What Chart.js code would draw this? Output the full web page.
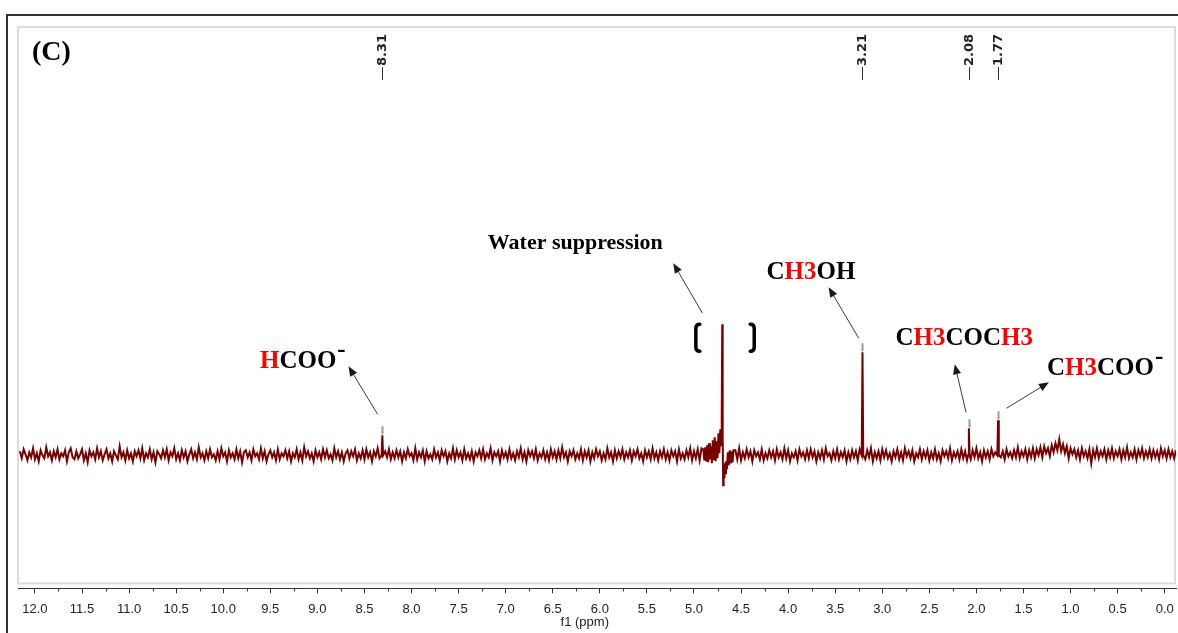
<!DOCTYPE html>
<html>
<head>
<meta charset="utf-8">
<script src="https://cdn.jsdelivr.net/npm/chart.js@4.4.0/dist/chart.umd.min.js"></script>
<style>
html,body{margin:0;padding:0;background:#fff}
canvas{display:block}
</style>
</head>
<body>
<canvas id="nmr" width="1178" height="633"></canvas>
<script>
// 1H NMR spectrum (C), intensity in arbitrary units (baseline = 0)

// baseline noise, one value every 0.02 ppm from 12.16 down to -0.12 (20 values = 0.4 ppm per row)
const baseStart = 12.16;
const baseStep = 0.02;
const baseNoise = [
  4,-3,6,1,-5,3,-2,7,-4,2,-6,5,0,-3,8,-1,3,-5,4,-2,      // 12.16
  6,-4,2,-1,5,-6,3,7,-2,-4,4,-3,1,6,-5,2,-7,5,-1,3,      // 11.76
  -4,7,-2,4,-5,1,6,-3,2,-6,4,0,-4,9,-2,3,-5,5,-3,2,      // 11.36
  -6,4,-1,5,-3,7,-5,2,-2,6,-4,3,-7,4,1,-3,5,-2,6,-5,     // 10.96
  3,-1,7,-4,2,-5,5,-2,4,-6,1,6,-3,3,-4,8,-2,2,-5,4,      // 10.56
  -3,6,-2,1,-5,4,-4,7,-1,3,-6,5,-2,2,-4,6,-3,4,-7,3,     // 10.16
  5,-2,3,-5,6,-1,2,-4,7,-3,4,-6,1,5,-2,3,-5,6,-4,2,      // 9.76
  -1,5,-3,4,-6,2,-2,6,-4,3,-5,8,-1,4,-3,2,-6,5,-2,3,     // 9.36
  -4,6,-2,5,-3,1,-5,7,-2,4,-4,3,-6,2,5,-3,4,-1,6,-5,     // 8.96
  2,-3,5,-4,6,-2,3,-6,4,-1,7,-3,2,-5,4,-2,6,-4,3,-3,     // 8.56
  5,-2,4,-6,3,-3,6,-1,2,-5,7,-4,3,-2,5,-6,4,-3,1,-4,     // 8.16
  6,-2,3,-5,5,-1,4,-6,2,-3,7,-4,5,-2,3,-5,6,-3,2,-4,     // 7.76
  4,-6,3,-1,5,-3,6,-4,2,-2,7,-5,3,-1,4,-6,5,-2,3,-4,     // 7.36
  6,-3,2,-5,4,-2,7,-4,3,-6,5,-1,4,-3,6,-5,2,-2,5,-4,     // 6.96
  3,-5,6,-2,4,-4,5,-3,8,-2,3,-6,4,-1,5,-4,2,-3,6,-5,     // 6.56
  4,-2,5,-6,3,-3,6,-1,4,-5,2,-4,7,-2,3,-6,5,-3,4,-2,     // 6.16
  6,-4,3,-2,5,-5,4,-1,6,-3,2,-6,5,-2,4,-4,7,-3,3,-5,     // 5.76
  4,-2,6,-4,3,-5,5,-1,4,-6,6,-3,2,-4,5,-2,7,-5,4,-3,     // 5.36
  6,-5,7,-4,8,-6,9,-7,10,-6,8,-5,6,-4,5,-3,7,-4,5,-6,    // 4.96
  5,-4,7,-5,3,-3,6,-2,4,-6,5,-1,3,-4,6,-5,2,-3,5,-2,     // 4.56
  4,-5,6,-2,3,-4,7,-3,5,-6,2,-2,4,-5,6,-1,3,-4,5,-3,     // 4.16
  6,-2,4,-6,3,-3,5,-4,7,-1,2,-5,4,-3,6,-4,3,-2,5,-6,     // 3.76
  3,-4,5,-2,4,-5,6,-3,2,-4,5,-2,7,-6,3,-3,4,-5,6,-2,     // 3.36
  5,-3,2,-6,4,-2,6,-4,3,-5,7,-1,4,-3,5,-6,2,-2,6,-4,     // 2.96
  4,-2,5,-5,3,-3,6,-4,2,-6,5,-1,4,-3,7,-5,3,-2,4,-4,     // 2.56
  6,-3,4,-5,2,-4,5,-2,7,-3,3,-6,5,-2,4,-4,6,-1,3,-5,     // 2.16
  7,-2,4,-4,6,-1,3,-3,5,-2,8,-3,4,-1,6,-4,5,-2,7,-3,     // 1.76
  6,0,8,-2,9,2,7,-1,10,3,12,5,16,4,11,2,9,-3,7,1,        // 1.36
  6,-2,5,-4,7,-1,4,-3,6,-8,5,-2,7,-3,4,-1,6,-4,5,-2,     // 0.96
  7,-3,4,-1,6,-4,5,-2,8,-3,3,-2,6,-4,5,-1,7,-3,4,-2,     // 0.56
  6,-3,5,-2,4,-4,7,-1,5,-3,6,-2,4,-3,5                   // 0.16
];

// suppressed water signal around 4.70 ppm
const waterPpm = [4.90,4.89,4.88,4.87,4.86,4.85,4.84,4.83,4.82,4.81,
  4.80,4.79,4.78,4.77,4.76,4.75,4.74,4.73,4.72,4.71,
  4.705,4.70,4.695,4.69,4.685,4.68,4.675,4.67,
  4.66,4.65,4.64,4.63,4.62,4.61,4.60,4.59,4.58];
const waterVal = [6,-5,8,-6,10,-7,12,-4,9,-8,
  15,-5,18,-6,14,-3,22,2,26,10,
  40,131,20,-30,-12,-22,-8,-18,
  -6,-14,3,-10,5,-8,4,-7,5];

// product peaks
const peakPpm = [8.31, 3.21, 2.08, 1.77];
const peakHeight = [20, 103, 27, 35];
const peakLabels = ['8.31', '3.21', '2.08', '1.77'];

// x axis
const ppmMin = -0.12;
const ppmMax = 12.18;
const axisTitle = 'f1 (ppm)';

const RED = '#ff0000';
const BLK = '#000000';

// annotations (anchored in ppm / intensity)
const notes = [
  {parts: [['Water suppression', BLK]], ppm: 7.19, val: 212, size: 22},
  {parts: [['C', BLK], ['H3', RED], ['OH', BLK]], ppm: 4.23, val: 183, size: 25},
  {parts: [['H', RED], ['COO', BLK]], ppm: 9.61, val: 94, size: 25, minus: true},
  {parts: [['C', BLK], ['H3', RED], ['COC', BLK], ['H3', RED]], ppm: 2.86, val: 117, size: 25},
  {parts: [['C', BLK], ['H3', RED], ['COO', BLK]], ppm: 1.25, val: 87, size: 25, minus: true}
];
const arrows = [
  [4.91, 142, 5.22, 192],
  [3.25, 117, 3.57, 168],
  [8.36, 41, 8.67, 89],
  [2.11, 43, 2.23, 91],
  [1.68, 47, 1.23, 73]
];

// build the spectrum line
let pts = [];
baseNoise.forEach(function(v, i) {
  let x = +(baseStart - i * baseStep).toFixed(3);
  if (x <= waterPpm[0] + 0.001 && x >= waterPpm[waterPpm.length - 1] - 0.001) return;
  if (peakPpm.some(function(p) { return Math.abs(p - x) < 0.015; })) return;
  pts.push({x: x, y: v});
});
waterPpm.forEach(function(x, i) { pts.push({x: x, y: waterVal[i]}); });
peakPpm.forEach(function(p, i) {
  pts.push({x: p + 0.008, y: 0}, {x: p, y: peakHeight[i]}, {x: p - 0.008, y: 0});
});
pts.sort(function(a, b) { return b.x - a.x; });

function drawArrow(ctx, x1, y1, x2, y2) {
  let a = Math.atan2(y2 - y1, x2 - x1);
  ctx.beginPath();
  ctx.moveTo(x1, y1);
  ctx.lineTo(x2 - 6 * Math.cos(a), y2 - 6 * Math.sin(a));
  ctx.stroke();
  ctx.beginPath();
  ctx.moveTo(x2, y2);
  ctx.lineTo(x2 - 10 * Math.cos(a) + 4 * Math.sin(a), y2 - 10 * Math.sin(a) - 4 * Math.cos(a));
  ctx.lineTo(x2 - 10 * Math.cos(a) - 4 * Math.sin(a), y2 - 10 * Math.sin(a) + 4 * Math.cos(a));
  ctx.closePath();
  ctx.fill();
}

const decor = {
  id: 'decor',
  beforeDraw: function(chart) {
    let ctx = chart.ctx, a = chart.chartArea;
    ctx.save();
    ctx.fillStyle = '#fff';
    ctx.fillRect(0, 0, chart.width, chart.height);
    // outer frame
    ctx.strokeStyle = '#333';
    ctx.lineWidth = 2;
    ctx.beginPath();
    ctx.moveTo(7, chart.height);
    ctx.lineTo(7, 15);
    ctx.lineTo(chart.width, 15);
    ctx.stroke();
    // inner light frame
    ctx.strokeStyle = '#dcdcdc';
    ctx.lineWidth = 2;
    ctx.strokeRect(a.left, a.top, a.right - a.left - 1, a.bottom - a.top - 5);
    ctx.restore();
  },
  afterDraw: function(chart) {
    let ctx = chart.ctx, a = chart.chartArea;
    let xs = chart.scales.x, ys = chart.scales.y;
    let X = function(v) { return xs.getPixelForValue(v); };
    let Y = function(v) { return ys.getPixelForValue(v); };
    ctx.save();

    // minor ticks
    ctx.strokeStyle = '#333';
    ctx.lineWidth = 1;
    for (let v = 0.25; v < 12.1; v += 0.5) {
      ctx.beginPath();
      ctx.moveTo(Math.round(X(v)) + 0.5, a.bottom);
      ctx.lineTo(Math.round(X(v)) + 0.5, a.bottom + 3);
      ctx.stroke();
    }

    // axis title
    ctx.fillStyle = '#222';
    ctx.font = '13px "Liberation Sans", Arial, sans-serif';
    ctx.textAlign = 'center';
    ctx.textBaseline = 'middle';
    ctx.fillText(axisTitle, X(6.16), 622);

    // peak picking labels at top
    peakPpm.forEach(function(p, i) {
      let x = Math.round(X(p)) + 0.5;
      ctx.strokeStyle = '#333';
      ctx.beginPath();
      ctx.moveTo(x, a.top + 40);
      ctx.lineTo(x, a.top + 53);
      ctx.stroke();
      ctx.save();
      ctx.translate(x, a.top + 39);
      ctx.rotate(-Math.PI / 2);
      ctx.font = 'bold 13px "DejaVu Sans", sans-serif';
      ctx.textAlign = 'left';
      ctx.textBaseline = 'middle';
      ctx.fillStyle = '#222';
      ctx.fillText(peakLabels[i], 0, 0);
      ctx.restore();
      // small grey marker over the peak
      ctx.strokeStyle = '#9a9a9a';
      ctx.lineWidth = 2;
      ctx.beginPath();
      ctx.moveTo(x, Y(peakHeight[i]) - 1);
      ctx.lineTo(x, Y(peakHeight[i]) - 9);
      ctx.stroke();
      ctx.lineWidth = 1;
    });

    // panel letter
    ctx.fillStyle = '#000';
    ctx.font = 'bold 28px "Liberation Serif", "Times New Roman", serif';
    ctx.textAlign = 'left';
    ctx.textBaseline = 'middle';
    ctx.fillText('(C)', a.left + 14, a.top + 26);

    // compound labels
    notes.forEach(function(n) {
      ctx.font = 'bold ' + n.size + 'px "Liberation Serif", "Times New Roman", serif';
      ctx.textBaseline = 'middle';
      let x = X(n.ppm), y = Y(n.val);
      n.parts.forEach(function(pt) {
        ctx.fillStyle = pt[1];
        ctx.fillText(pt[0], x, y);
        x += ctx.measureText(pt[0]).width;
      });
      if (n.minus) {
        ctx.fillStyle = BLK;
        ctx.textBaseline = 'alphabetic';
        ctx.fillText('-', x + 1, y - 4);
      }
    });

    // arrows
    ctx.strokeStyle = '#3a3a3a';
    ctx.fillStyle = '#1a1a1a';
    ctx.lineWidth = 1;
    arrows.forEach(function(r) {
      drawArrow(ctx, X(r[0]), Y(r[1]), X(r[2]), Y(r[3]));
    });

    // brackets around the water region
    ctx.strokeStyle = '#000';
    ctx.lineWidth = 3.5;
    ctx.lineCap = 'round';
    let bt = Y(131), bb = Y(104);
    let bl = X(4.98), br = X(4.36);
    ctx.beginPath();
    ctx.moveTo(bl + 4, bt);
    ctx.quadraticCurveTo(bl, bt, bl, bt + 4);
    ctx.lineTo(bl, bb - 4);
    ctx.quadraticCurveTo(bl, bb, bl + 4, bb);
    ctx.moveTo(br - 4, bt);
    ctx.quadraticCurveTo(br, bt, br, bt + 4);
    ctx.lineTo(br, bb - 4);
    ctx.quadraticCurveTo(br, bb, br - 4, bb);
    ctx.stroke();

    ctx.restore();
  }
};

new Chart(document.getElementById('nmr').getContext('2d'), {
  type: 'line',
  data: {
    datasets: [{
      data: pts,
      borderColor: '#780000',
      borderWidth: 2,
      pointRadius: 0,
      tension: 0,
      fill: false
    }]
  },
  options: {
    responsive: false,
    animation: false,
    parsing: false,
    layout: {padding: {left: 18, right: 2, top: 27, bottom: 8}},
    plugins: {legend: {display: false}, tooltip: {enabled: false}},
    scales: {
      x: {
        type: 'linear',
        reverse: true,
        min: ppmMin,
        max: ppmMax,
        afterFit: function(s) { s.paddingLeft = 0; s.paddingRight = 0; },
        border: {display: true, color: '#333', width: 1},
        grid: {display: true, drawOnChartArea: false, drawTicks: true, tickLength: 5, color: '#333'},
        ticks: {
          stepSize: 0.5,
          includeBounds: false,
          autoSkip: false,
          maxRotation: 0,
          padding: 8,
          color: '#222',
          font: {family: '"Liberation Sans", Arial, sans-serif', size: 13},
          callback: function(v) { return Number(v).toFixed(1); }
        }
      },
      y: {display: false, min: -133, max: 428}
    }
  },
  plugins: [decor]
});
</script>
</body>
</html>
